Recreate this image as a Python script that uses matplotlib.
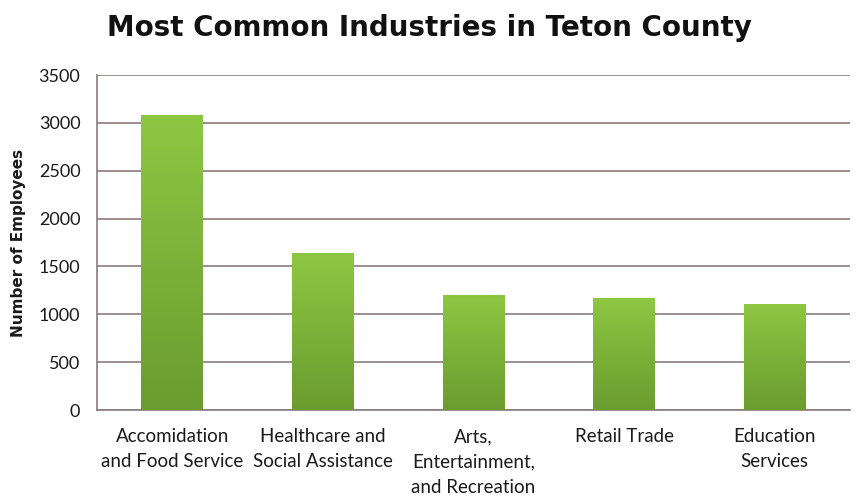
import matplotlib
matplotlib.use("Agg")
import matplotlib.pyplot as plt
import numpy as np
from matplotlib.colors import LinearSegmentedColormap

categories = ["Accomidation\nand Food Service", "Healthcare and\nSocial Assistance",
              "Arts,\nEntertainment,\nand Recreation", "Retail Trade", "Education\nServices"]
employees = [3080, 1640, 1200, 1170, 1100]
yticks = [0, 500, 1000, 1500, 2000, 2500, 3000, 3500]

plt.rcParams['font.family'] = ['Lato', 'DejaVu Sans']

fig = plt.figure(figsize=(8.62, 4.98), dpi=100)
ax = fig.add_axes([97/862, 88/498, 753/862, 335/498])

x = np.arange(len(categories))
bars = ax.bar(x, employees, width=0.41, color='#7db43a', zorder=2)

cmap = LinearSegmentedColormap.from_list('g', ['#6a9c2f', '#8dc742'])
grad = np.linspace(0, 1, 256).reshape(-1, 1)
for b in bars:
    x0, w, h = b.get_x(), b.get_width(), b.get_height()
    ax.imshow(grad, cmap=cmap, origin='lower', aspect='auto',
              extent=(x0, x0 + w, 0, h), zorder=3)
    b.set_alpha(0)

ax.set_xlim(-0.5, len(categories) - 0.5)
ax.set_ylim(0, 3500)
ax.set_yticks(yticks)
ax.set_xticks(x)
ax.set_xticklabels(categories, fontsize=13.5, color='#1a1a1a', linespacing=1.6)
ax.tick_params(axis='x', length=0, pad=13)
ax.tick_params(axis='y', length=0, pad=12, labelsize=13, labelcolor='#1a1a1a')
ax.yaxis.grid(True, color='#8a7b7b', linewidth=1.2, zorder=1)
ax.set_axisbelow(True)
for s in ['top', 'right']:
    ax.spines[s].set_visible(False)
for s in ['left', 'bottom']:
    ax.spines[s].set_color('#8a7b7b')
    ax.spines[s].set_linewidth(1.2)

ax.set_ylabel("Number of Employees", fontsize=11, fontweight='bold', color='#1a1a1a',
              labelpad=9, family=['DejaVu Sans'])
fig.text(429/862, 1 - 28/498, "Most Common Industries in Teton County",
         ha='center', va='center', fontsize=20, fontweight='bold', color='#111111',
         family=['DejaVu Sans'])

fig.savefig("out.png", dpi=100)
